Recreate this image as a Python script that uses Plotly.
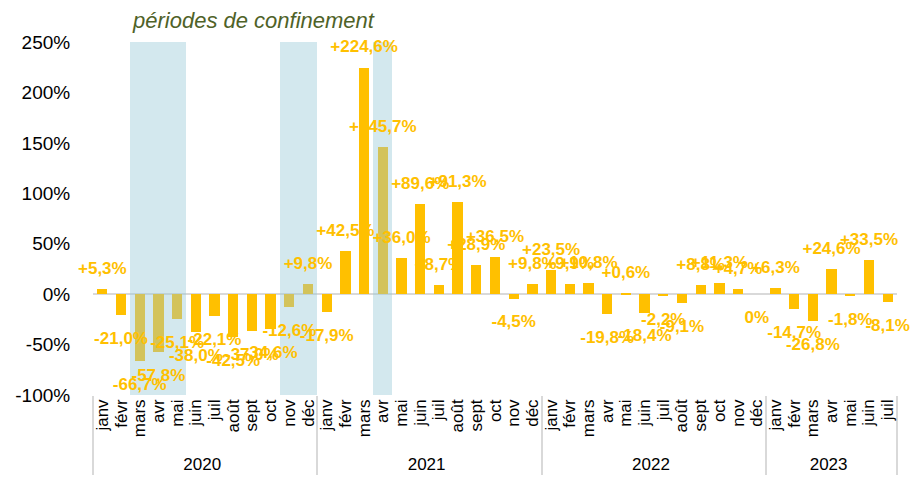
import plotly.graph_objects as go

years = ["2020"] * 12 + ["2021"] * 12 + ["2022"] * 12 + ["2023"] * 7
month_names = ["janv", "févr", "mars", "avr", "mai", "juin", "juil", "août", "sept", "oct", "nov", "déc"]
months = month_names * 3 + month_names[:7]

values = [
    5.3, -21.0, -66.7, -57.8, -25.1, -38.0, -22.1, -42.5, -37.0, -34.6, -12.6, 9.8,
    -17.9, 42.5, 224.6, 145.7, 36.0, 89.6, 8.7, 91.3, 28.9, 36.5, -4.5, 9.8,
    23.5, 9.9, 10.8, -19.8, 0.6, -18.4, -2.2, -9.1, 8.8, 11.3, 4.7, 0.0,
    6.3, -14.7, -26.8, 24.6, -1.8, 33.5, -8.1,
]

# 1 = confinement period
confinement = [0, 0, 1, 1, 1, 0, 0, 0, 0, 0, 1, 1,
               0, 0, 0, 1, 0, 0, 0, 0, 0, 0, 0, 0,
               0, 0, 0, 0, 0, 0, 0, 0, 0, 0, 0, 0,
               0, 0, 0, 0, 0, 0, 0]

y_ticks = [-100, -50, 0, 50, 100, 150, 200, 250]
y_tick_labels = ["-100%", "-50%", "0%", "50%", "100%", "150%", "200%", "250%"]
y_min, y_max = -100, 250


def fmt(v):
    if v == 0:
        return "0%"
    s = f"{abs(v):.1f}".replace(".", ",")
    return ("+" if v > 0 else "-") + s + "%"


labels = [fmt(v) for v in values]
x = [years, months]
n = len(values)

GOLD = "#FFC000"
FONT = "Liberation Sans, Arial, sans-serif"

fig = go.Figure()
fig.add_trace(go.Bar(x=x, y=values, marker_color=GOLD, width=0.55,
                     marker_line_width=0, hoverinfo="skip"))
fig.add_trace(go.Bar(x=x, y=[(y_max - y_min) if c else 0 for c in confinement],
                     base=[y_min] * n, width=1.0,
                     marker_color="rgba(150,200,215,0.42)", marker_line_width=0,
                     hoverinfo="skip"))
fig.add_trace(go.Scatter(
    x=x, y=values, mode="markers+text", text=labels,
    textposition=["top center" if v > 0 else "bottom center" for v in values],
    marker=dict(size=[16 if v > 0 else 24 for v in values], opacity=0),
    textfont=dict(family=FONT, size=17, color=GOLD, weight="bold"),
    cliponaxis=False, hoverinfo="skip"))

fig.add_annotation(text="<i>périodes de confinement</i>", xref="paper", yref="paper",
                   x=0.2, y=1.02, xanchor="center", yanchor="bottom", showarrow=False,
                   font=dict(family=FONT, size=22, color="#4F6228"))

fig.update_layout(
    width=924, height=492,
    margin=dict(l=85, r=35, t=34, b=105),
    paper_bgcolor="white", plot_bgcolor="white",
    barmode="overlay", bargap=0, showlegend=False,
    font=dict(family=FONT, color="black"),
    xaxis=dict(type="multicategory", tickangle=-90, showgrid=False,
               range=[-0.5, n - 0.5], autorange=False, automargin=False,
               tickmode="linear", dtick=1,
               tickfont=dict(size=17, color="black"),
               showdividers=True, dividercolor="#D9D9D9", dividerwidth=2,
               ticks="", showline=False, zeroline=False),
    yaxis=dict(range=[y_min, y_max], tickvals=y_ticks, ticktext=y_tick_labels,
               automargin=False,
               showgrid=False, zeroline=True, zerolinecolor="#D9D9D9", zerolinewidth=2,
               showline=False, ticks="outside", ticklen=18, tickcolor="rgba(0,0,0,0)",
               tickfont=dict(size=19, color="black")),
)

fig.write_html("out.html")
